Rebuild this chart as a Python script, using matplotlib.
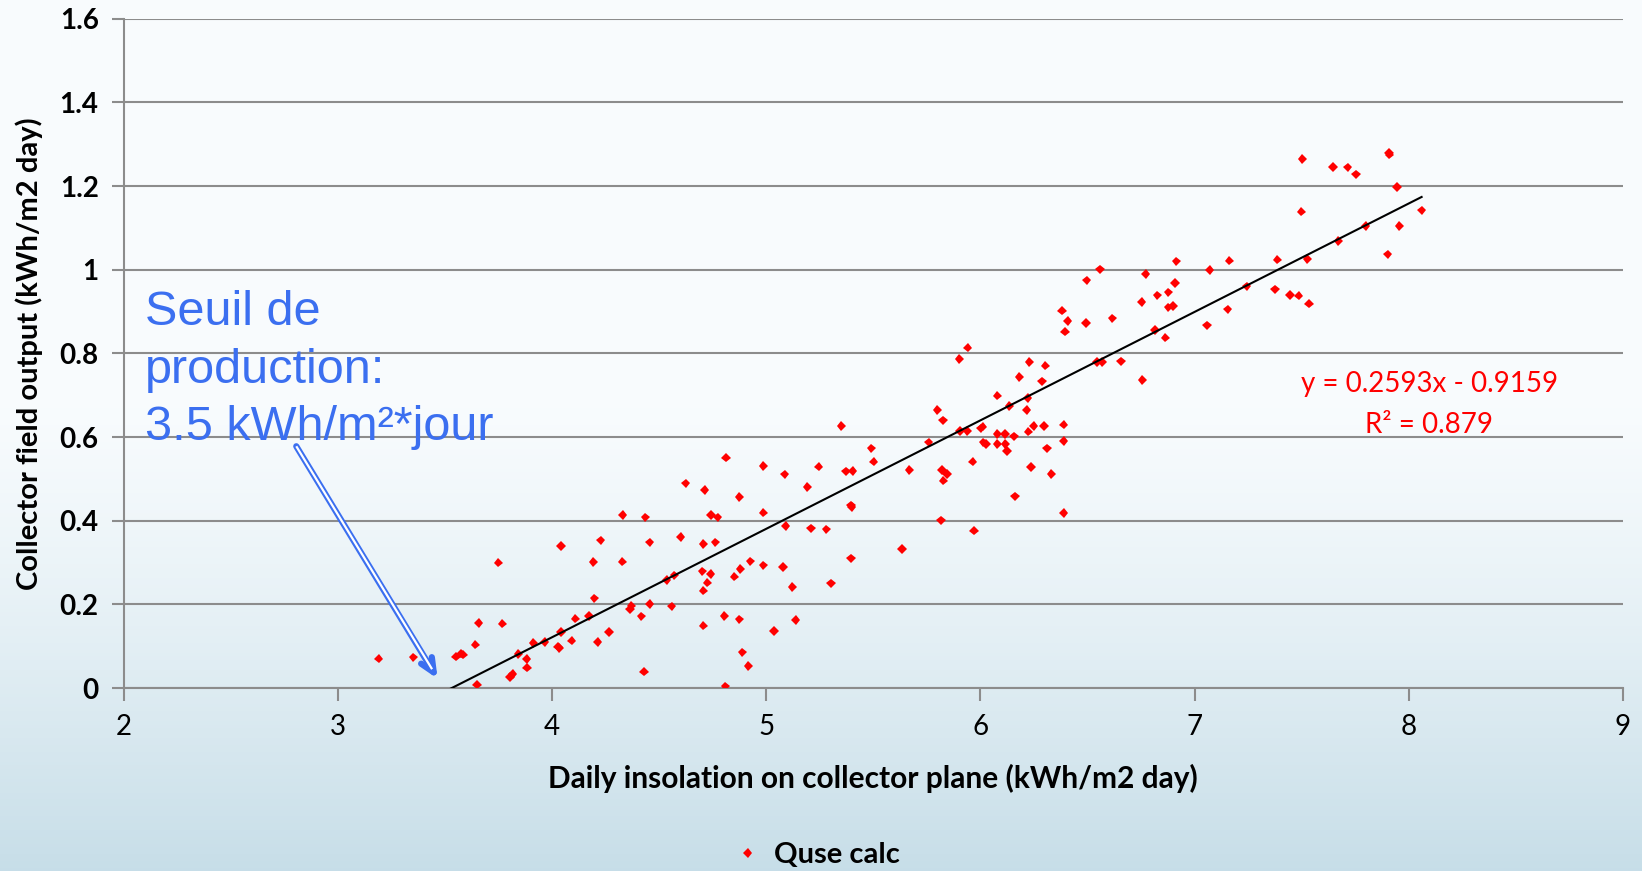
import numpy as np
import matplotlib.pyplot as plt
import matplotlib.patheffects as pe

# daily insolation (x) and collector field output (y)
insolation = [3.191, 3.353, 3.552, 3.575, 3.585, 3.642, 3.658, 3.650, 3.749, 3.768,
              3.804, 3.816, 3.843, 3.882, 3.883, 3.913, 3.966, 4.027, 4.034, 4.042,
              4.041, 4.092, 4.109, 4.173, 4.193, 4.198, 4.227, 4.213, 4.267, 4.330,
              4.328,
              5.351, 5.491, 5.502, 4.812, 4.987, 5.086, 5.245, 5.373, 5.404, 5.668,
              4.624, 4.713, 4.874, 5.192, 5.395, 5.399, 4.436, 4.742, 4.773, 4.987,
              5.091, 5.209, 5.281, 4.456, 4.601, 4.706, 4.762, 5.635, 5.396, 4.702,
              4.741, 4.725, 4.706, 4.535, 4.571, 4.851, 4.879, 4.926, 4.987, 5.079,
              5.122, 5.303, 4.370, 4.364, 4.456, 4.559, 4.417, 4.706, 4.804, 4.874,
              5.138, 5.036, 4.888, 4.917, 4.430, 4.809,
              6.382, 6.407, 6.395, 6.493, 6.616, 6.753, 6.877, 6.900, 6.815, 6.863,
              5.941, 5.902, 6.228, 6.303, 6.182, 6.288, 6.544, 6.569, 6.656, 6.756,
              6.079, 6.221, 6.135, 6.216, 5.799, 5.826, 5.905, 5.939, 6.001, 6.011,
              6.079, 6.115, 6.157, 6.224, 6.249, 6.297, 6.389, 6.389, 5.759, 6.014,
              6.026, 6.079, 6.116, 6.124, 6.310, 5.821, 5.844, 5.827, 5.964, 6.236,
              6.331, 6.162, 6.389, 5.817, 5.970,
              6.915, 7.162, 6.558, 6.772, 7.070, 6.496, 6.908, 6.826, 6.877, 7.155,
              7.058,
              7.503, 7.646, 7.715, 7.754, 7.908, 7.910, 7.945, 7.498, 8.060, 7.956,
              7.799, 7.671, 7.902, 7.386, 7.526, 7.243, 7.375, 7.446, 7.486, 7.534]

output = [0.070, 0.073, 0.075, 0.082, 0.080, 0.104, 0.155, 0.008, 0.300, 0.154,
          0.026, 0.033, 0.081, 0.069, 0.049, 0.108, 0.110, 0.099, 0.096, 0.134,
          0.340, 0.113, 0.166, 0.172, 0.301, 0.214, 0.353, 0.110, 0.134, 0.414,
          0.302,
          0.626, 0.573, 0.541, 0.551, 0.531, 0.511, 0.529, 0.518, 0.519, 0.521,
          0.489, 0.473, 0.457, 0.481, 0.437, 0.433, 0.408, 0.414, 0.408, 0.419,
          0.387, 0.382, 0.379, 0.348, 0.361, 0.344, 0.348, 0.332, 0.310, 0.279,
          0.273, 0.252, 0.233, 0.258, 0.269, 0.266, 0.285, 0.303, 0.293, 0.289,
          0.242, 0.250, 0.197, 0.188, 0.201, 0.195, 0.171, 0.149, 0.172, 0.164,
          0.163, 0.136, 0.085, 0.053, 0.039, 0.004,
          0.902, 0.877, 0.852, 0.873, 0.884, 0.923, 0.910, 0.913, 0.856, 0.838,
          0.814, 0.787, 0.779, 0.771, 0.744, 0.733, 0.779, 0.779, 0.781, 0.736,
          0.699, 0.693, 0.674, 0.665, 0.665, 0.640, 0.614, 0.614, 0.621, 0.625,
          0.607, 0.607, 0.602, 0.613, 0.626, 0.626, 0.630, 0.591, 0.587, 0.587,
          0.583, 0.583, 0.583, 0.567, 0.573, 0.521, 0.512, 0.496, 0.541, 0.528,
          0.512, 0.458, 0.418, 0.401, 0.376,
          1.020, 1.022, 1.001, 0.990, 0.999, 0.975, 0.968, 0.939, 0.946, 0.905,
          0.867,
          1.265, 1.246, 1.245, 1.228, 1.280, 1.275, 1.198, 1.139, 1.142, 1.105,
          1.105, 1.069, 1.037, 1.024, 1.026, 0.960, 0.953, 0.940, 0.938, 0.919]

# linear trendline as printed on the chart
slope = 0.2593
intercept = -0.9159
r2 = 0.879

x_ticks = [2, 3, 4, 5, 6, 7, 8, 9]
y_ticks = [0, 0.2, 0.4, 0.6, 0.8, 1.0, 1.2, 1.4, 1.6]
y_tick_labels = ['0', '0.2', '0.4', '0.6', '0.8', '1', '1.2', '1.4', '1.6']

blue = '#3b6ff0'
grid_gray = '#8c8c8c'

plt.rcParams['font.family'] = ['Lato', 'DejaVu Sans']

fig = plt.figure(figsize=(16.42, 8.71), dpi=100)

# slide-like background: white at the top fading to pale blue at the bottom
bg = fig.add_axes([0, 0, 1, 1], zorder=-10)
t = np.linspace(0, 1, 256)[:, None]
fade = np.clip((t - 0.45) / 0.55, 0, 1) ** 1.3
top = np.array([0.975, 0.988, 0.995])
bottom = np.array([0.78, 0.87, 0.91])
grad = top + (bottom - top) * fade[:, :, None]
grad = np.repeat(grad, 4, axis=1)
bg.imshow(grad, aspect='auto', extent=[0, 1, 0, 1], origin='upper')
bg.axis('off')

ax = fig.add_axes([0.0753, 0.2101, 0.9131, 0.7683])
ax.set_facecolor('none')

ax.plot(insolation, output, linestyle='none', marker='D', markersize=4.8,
        color='#ff0000', markeredgewidth=0, zorder=3,
        path_effects=[pe.SimpleLineShadow(offset=(1, -1.5), shadow_color='#777777', alpha=0.35),
                      pe.Normal()])

# trendline over the data range, clipped at y = 0 by the axes
xl = np.array([min(insolation), max(insolation)])
ax.plot(xl, slope * xl + intercept, color='black', lw=1.5, zorder=4)

ax.set_xlim(2, 9)
ax.set_ylim(0, 1.6)
ax.set_xticks(x_ticks, [str(v) for v in x_ticks])
ax.set_yticks(y_ticks, y_tick_labels)
ax.tick_params(axis='both', color=grid_gray, width=1.5, length=9, direction='out')
ax.tick_params(axis='x', pad=10, labelsize=20)
ax.tick_params(axis='y', pad=9, labelsize=20)
plt.setp(ax.get_yticklabels(), fontweight='bold')

ax.grid(axis='y', color=grid_gray, lw=1.5)
ax.set_axisbelow(True)
for s in ['top', 'right']:
    ax.spines[s].set_visible(False)
for s in ['left', 'bottom']:
    ax.spines[s].set_color(grid_gray)
    ax.spines[s].set_linewidth(1.5)

ax.set_xlabel('Daily insolation on collector plane (kWh/m2 day)', fontsize=21.5,
              fontweight='bold')
ax.set_ylabel('Collector field output (kWh/m2 day)', fontsize=21,
              fontweight='bold')
ax.xaxis.set_label_coords(0.5, -0.113)
ax.yaxis.set_label_coords(-0.054, 0.5)

# equation of the trendline
ax.text(8.095, 0.726, 'y = %.4fx - %.4f' % (slope, -intercept), color='#ff0000',
        fontsize=20, ha='center', va='center')
ax.text(8.095, 0.628, 'R² = %.3f' % r2, color='#ff0000',
        fontsize=20, ha='center', va='center')

# threshold annotation
ax.text(2.10, 0.760, 'Seuil de\nproduction:\n3.5 kWh/m²*jour', color=blue,
        fontsize=35, family='Liberation Sans', ha='left', va='center', linespacing=1.36)
ax.annotate('', xy=(3.466, 0.022), xytext=(2.806, 0.578),
            arrowprops=dict(arrowstyle='->, head_length=1.0, head_width=0.45',
                            color=blue, lw=4.5, shrinkA=0, shrinkB=0), zorder=5)
ax.plot([2.806, 3.44], [0.578, 0.045], color='white', lw=1.6, zorder=6,
        solid_capstyle='butt')

# legend at the bottom
fig.legend(handles=ax.lines[:1], labels=['Quse calc'], loc='center',
           bbox_to_anchor=(0.499, 0.018), frameon=False, handlelength=0.6,
           handletextpad=0.6, prop={'size': 21, 'weight': 'bold'})

fig.savefig('out.png', dpi=100)
